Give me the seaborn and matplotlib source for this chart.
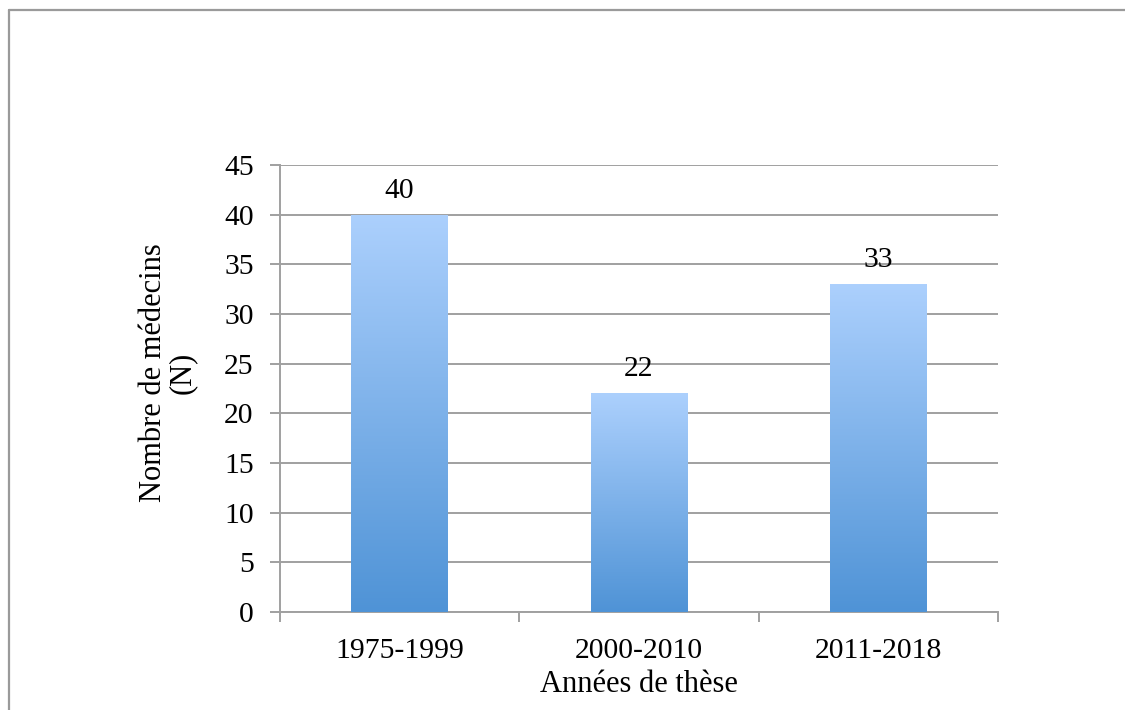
import numpy as np
import pandas as pd
import matplotlib
matplotlib.use("Agg")
import matplotlib.pyplot as plt
import seaborn as sns
from matplotlib.colors import LinearSegmentedColormap
from matplotlib.lines import Line2D

# Data
periods = ["1975-1999", "2000-2010", "2011-2018"]
counts = [40, 22, 33]
y_ticks = [0, 5, 10, 15, 20, 25, 30, 35, 40, 45]

df = pd.DataFrame({"periode": periods, "medecins": counts})

sns.set_theme(style="white")
plt.rcParams["font.family"] = ["Liberation Serif", "DejaVu Serif"]
plt.rcParams["text.color"] = "black"

FS = 21.3
FS_LABEL = 22

fig = plt.figure(figsize=(11.25, 7.1), dpi=100)
ax = fig.add_axes([0.2489, 0.138, 0.8871 - 0.2489, 0.7676 - 0.138])

grid_color = "#a0a0a0"
sns.barplot(data=df, x="periode", y="medecins", ax=ax, width=0.405,
            color="#6fa8e6", saturation=1, zorder=3)

# Vertical gradient fill in each bar: light at top, deeper blue at the bottom
cmap = LinearSegmentedColormap.from_list("bleu", ["#4f93d6", "#acd0fd"])
grad = np.linspace(0, 1, 256).reshape(-1, 1)
for patch in ax.patches:
    x0, y0 = patch.get_x(), patch.get_y()
    w, h = patch.get_width(), patch.get_height()
    patch.set_facecolor("none")
    patch.set_edgecolor("none")
    im = ax.imshow(grad, cmap=cmap, origin="lower", aspect="auto",
                   extent=[x0, x0 + w, y0, y0 + h], zorder=3)
    im.set_clip_path(patch)

ax.set_xlim(-0.5, 2.5)
ax.set_ylim(0, 45)
ax.set_yticks(y_ticks)
ax.yaxis.grid(True, color=grid_color, linewidth=1.4, zorder=0)
ax.set_axisbelow(True)

for side in ["top", "right"]:
    ax.spines[side].set_visible(False)
for side in ["left", "bottom"]:
    ax.spines[side].set_color(grid_color)
    ax.spines[side].set_linewidth(1.4)

# Category boundary ticks on the x axis
ax.set_xticks([0, 1, 2])
ax.set_xticks([-0.5, 0.5, 1.5, 2.5], minor=True)
ax.tick_params(axis="x", which="major", length=0, pad=19, labelsize=FS,
               labelcolor="black")
ax.tick_params(axis="x", which="minor", length=7, width=1.4, color=grid_color,
               direction="out", bottom=True)
ax.tick_params(axis="y", length=7, width=1.4, color=grid_color, left=True,
               pad=12, labelsize=FS, labelcolor="black")

for c in ax.containers:
    ax.bar_label(c, labels=[str(v) for v in counts], padding=8, fontsize=FS,
                 color="black")

ax.set_xlabel("Années de thèse", fontsize=FS_LABEL, labelpad=4, color="black")
ax.set_ylabel("Nombre de médecins\n(N)", fontsize=FS_LABEL, color="black",
              linespacing=1.0)
ax.yaxis.set_label_coords(-0.116, 0.535)

# Outer frame (open at right and bottom)
frame_color = "#9a9a9a"
fig.add_artist(Line2D([8.5 / 1125, 8.5 / 1125], [0, 1 - 10 / 710],
                      transform=fig.transFigure, color=frame_color, lw=1.6))
fig.add_artist(Line2D([8.5 / 1125, 1], [1 - 10 / 710, 1 - 10 / 710],
                      transform=fig.transFigure, color=frame_color, lw=1.6))

fig.savefig("out.png", dpi=100, facecolor="white")
